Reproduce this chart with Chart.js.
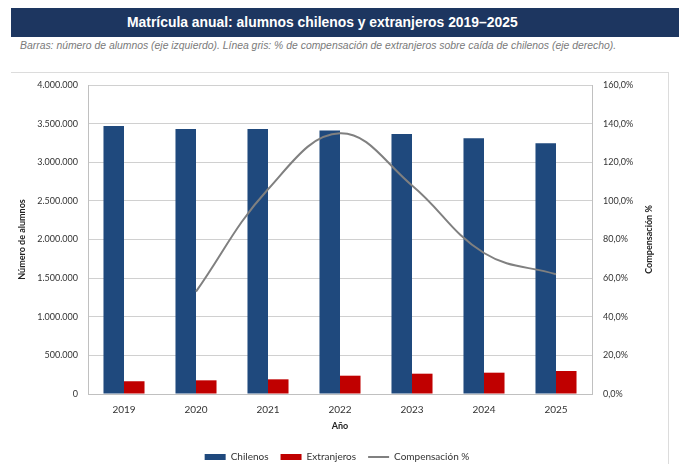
<!DOCTYPE html>
<html>
<head>
<meta charset="utf-8">
<script src="https://cdn.jsdelivr.net/npm/chart.js@4.4.1/dist/chart.umd.min.js"></script>
<style>
  html, body { margin: 0; padding: 0; background: #fff; overflow: hidden; }
  body { width: 684px; height: 464px; position: relative; }
  #banner { position: absolute; left: 11px; top: 8px; width: 668px; height: 29px; background: #1d3660; }
  #title { position: absolute; left: 127px; top: 8px; height: 29px; line-height: 29px; color: #fff;
           font-family: "Liberation Sans", Arial, sans-serif; font-weight: bold; font-size: 13.9px; white-space: nowrap; }
  #subtitle { position: absolute; left: 20px; top: 40px; font-family: "Liberation Sans", Arial, sans-serif; font-style: italic;
              font-size: 10.4px; color: #7a7a7a; white-space: nowrap; }
  #frame { position: absolute; left: 11px; top: 72px; width: 657px; height: 400px; border-top: 1px solid #dcdcdc; border-right: 1px solid #dcdcdc; }
  #wrap { position: absolute; left: 0; top: 0; width: 684px; height: 472px; }
</style>
</head>
<body>
<div id="banner"></div>
<div id="title">Matrícula anual: alumnos chilenos y extranjeros 2019–2025</div>
<div id="subtitle">Barras: número de alumnos (eje izquierdo). Línea gris: % de compensación de extranjeros sobre caída de chilenos (eje derecho).</div>
<div id="frame"></div>
<div id="wrap"><canvas id="c" width="684" height="472"></canvas></div>
<script>
const years = ["2019", "2020", "2021", "2022", "2023", "2024", "2025"];
const chilenos = [3470000, 3430000, 3430000, 3410000, 3365000, 3310000, 3245000];
const extranjeros = [165000, 177000, 190000, 237000, 263000, 276000, 298000];
const compensacion = [null, 53, 106, 135, 108, 73, 62];
const leftTicks = [0, 500000, 1000000, 1500000, 2000000, 2500000, 3000000, 3500000, 4000000];
const rightTicks = [0, 20, 40, 60, 80, 100, 120, 140, 160];

const FONT = "Lato, 'Open Sans', sans-serif";

function fmtThousands(v) {
  return String(Math.round(v)).replace(/\B(?=(\d{3})+(?!\d))/g, ".");
}
function fmtPct(v) {
  return v.toFixed(1).replace(".", ",") + "%";
}

const rightTitlePlugin = {
  id: "rightTitle",
  afterDraw(chart) {
    const ctx = chart.ctx;
    const area = chart.chartArea;
    ctx.save();
    ctx.font = "bold 9px " + FONT;
    ctx.fillStyle = "#222";
    ctx.textAlign = "center";
    ctx.textBaseline = "middle";
    ctx.translate(649, (area.top + area.bottom) / 2);
    ctx.rotate(-Math.PI / 2);
    ctx.fillText("Compensación %", 0, 0);
    ctx.restore();
  }
};

new Chart(document.getElementById("c"), {
  type: "bar",
  data: {
    labels: years,
    datasets: [
      { label: "Chilenos", data: chilenos, backgroundColor: "#1f497d", borderWidth: 0,
        yAxisID: "y", order: 2, pointStyle: "rect",
        categoryPercentage: 0.57, barPercentage: 1.0 },
      { label: "Extranjeros", data: extranjeros, backgroundColor: "#c00000", borderWidth: 0,
        yAxisID: "y", order: 2, pointStyle: "rect",
        categoryPercentage: 0.57, barPercentage: 1.0 },
      { type: "line", label: "Compensación %", data: compensacion, borderColor: "#808080",
        backgroundColor: "#808080", borderWidth: 2, pointRadius: 0, tension: 0.4,
        yAxisID: "y1", order: 1, pointStyle: "line", fill: false }
    ]
  },
  options: {
    responsive: false,
    animation: false,
    layout: { padding: { top: 85, left: 0, right: 10, bottom: 0 } },
    plugins: {
      title: { display: false },
      tooltip: { enabled: false },
      legend: {
        position: "bottom",
        labels: {
          usePointStyle: true, pointStyleWidth: 21, boxHeight: 6,
          padding: 12, color: "#333",
          font: { family: FONT, size: 10 },
          sort: (a, b) => a.datasetIndex - b.datasetIndex
        }
      }
    },
    scales: {
      x: {
        grid: { display: false, drawTicks: false },
        border: { display: true, color: "#c0c0c0", width: 1 },
        ticks: { color: "#333", font: { family: FONT, size: 10 }, padding: 10, maxRotation: 0 },
        title: { display: true, text: "Año", color: "#222", font: { family: FONT, size: 9, weight: "bold" },
                 padding: { top: 0, bottom: 9 } },
        afterFit(s) { s.height = 46; }
      },
      y: {
        position: "left",
        min: 0, max: 4000000,
        afterBuildTicks(s) { s.ticks = leftTicks.map(v => ({ value: v })); },
        grid: { color: "#d0d0d0", drawTicks: false, lineWidth: 1 },
        border: { display: true, color: "#c0c0c0", width: 1 },
        ticks: { color: "#333", font: { family: FONT, size: 9 }, padding: 10, callback: v => fmtThousands(v) },
        title: { display: true, text: "Número de alumnos", color: "#222", font: { family: FONT, size: 9, weight: "bold" },
                 padding: { top: 17, bottom: 0 } },
        afterFit(s) { s.width = 88; }
      },
      y1: {
        position: "right",
        min: 0, max: 160,
        afterBuildTicks(s) { s.ticks = rightTicks.map(v => ({ value: v })); },
        grid: { display: false, drawTicks: false },
        border: { display: true, color: "#c0c0c0", width: 1 },
        ticks: { color: "#333", font: { family: FONT, size: 9 }, padding: 11, callback: v => fmtPct(v) },
        title: { display: false },
        afterFit(s) { s.width = 82; }
      }
    }
  },
  plugins: [rightTitlePlugin]
});
</script>
</body>
</html>
